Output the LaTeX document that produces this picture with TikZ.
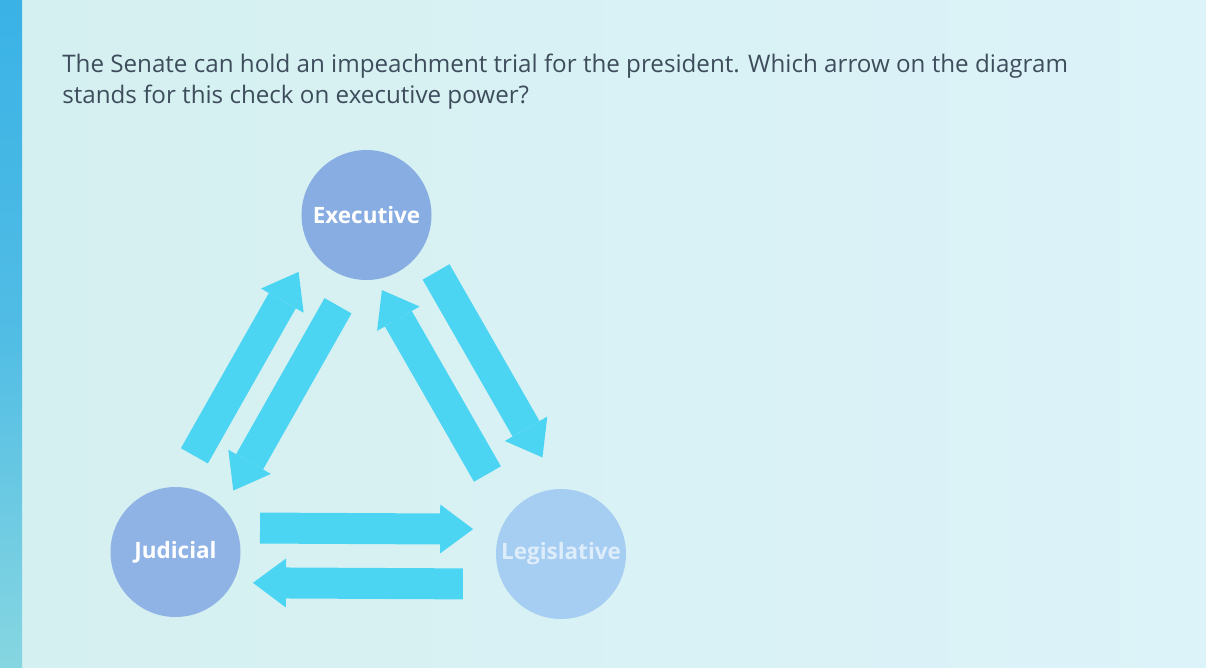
\documentclass[tikz,border=0pt]{standalone}
\usepackage{fontspec}
\setmainfont{Open Sans}
\usetikzlibrary{calc,arrows.meta,positioning}
\definecolor{bgleft}{HTML}{D5F0F0}
\definecolor{bgright}{HTML}{DCF3F9}
\definecolor{stripetop}{HTML}{3AB2E6}
\definecolor{stripebot}{HTML}{86D6E1}
\definecolor{qtext}{HTML}{3E4D5C}
\definecolor{exefill}{HTML}{88ADE2}
\definecolor{judfill}{HTML}{90B3E6}
\definecolor{legfill}{HTML}{A6CDF2}
\definecolor{leglabel}{HTML}{DDEDFA}
\definecolor{checkcyan}{HTML}{4CD5F2}

\begin{document}
\begin{tikzpicture}
		[   cnode/.style={fill=#1,minimum size=3.25cm,inner sep=0pt,circle,text=white,font=\bfseries\fontsize{16}{18}\selectfont},
		]
		\tikzset{check arrow/.style={draw=checkcyan,line width=0.775cm,-{Triangle[width=1.225cm,length=0.825cm,line width=0pt]}}}
		
		\shade[left color=bgleft,right color=bgright] (0,0) rectangle (30.15,-16.675);
		\shade[top color=stripetop,bottom color=stripebot,middle color=stripetop!70!stripebot] (0,0) rectangle (0.55,-16.675);
		\useasboundingbox (0,0) rectangle (30.15,-16.675);
		
		\node[anchor=north west,inner sep=0pt,align=left,text=qtext,font=\fontsize{17.2}{22}\selectfont] (q) at (1.55,-1.35) {The Senate can hold an impeachment trial for the president. Which arrow on the diagram\\stands for this check on executive power?};
		
		\node[cnode=exefill] (exe) at (9.1625,-5.375) {Executive};
		\node[cnode=judfill] (jud) at (4.3875,-13.8) {Judicial};
		\node[cnode=legfill,text=leglabel] (leg) at (14.025,-13.85) {Legislative};
		
		\foreach \a/\b/\off/\s/\e in {jud/exe/0.775cm/2.325cm/2.075cm, exe/jud/0.5cm/2.325cm/2.05cm, exe/leg/0.8cm/2.1cm/2.325cm, leg/exe/0.6cm/2.65cm/1.82cm, jud/leg/0.61cm/2.11cm/2.2cm, leg/jud/0.76cm/2.45cm/1.94cm}
		{
			\path[check arrow] ($(\a.center)!\s!(\b.center)!\off!90:(\b.center)$) -- ($(\b.center)!\e!(\a.center)!\off!-90:(\a.center)$);
		}
\end{tikzpicture}
\end{document}
